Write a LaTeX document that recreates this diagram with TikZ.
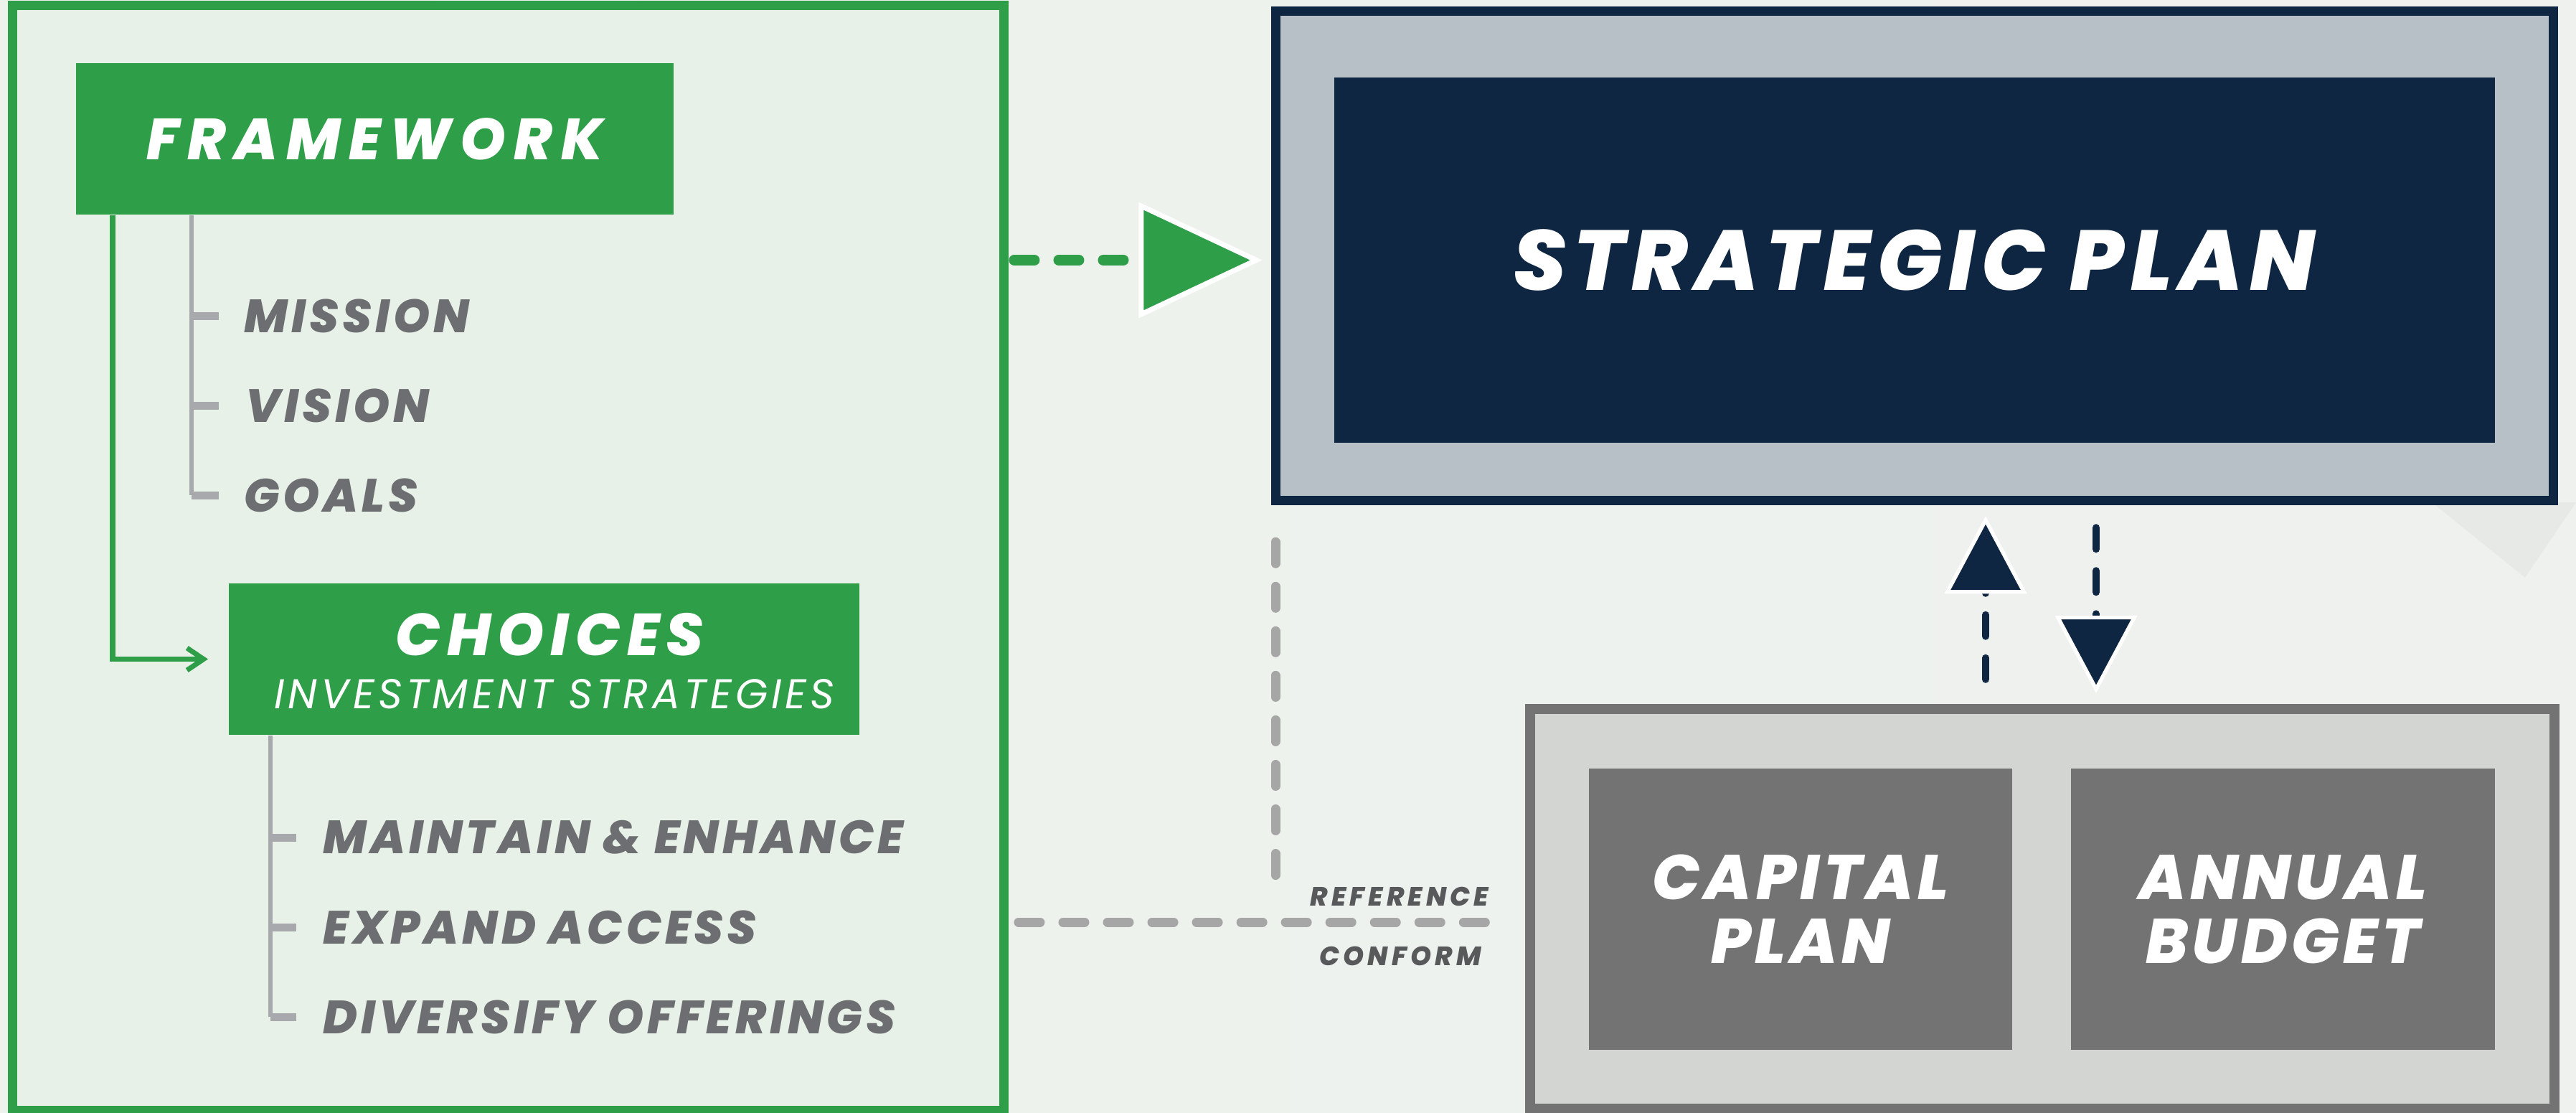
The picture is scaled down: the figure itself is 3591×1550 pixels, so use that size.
\documentclass[tikz,border=0pt]{standalone}
\usepackage{fontspec}
\setmainfont{Poppins}
\newfontfamily\heavyfont{Poppins ExtraBold Italic}
\usetikzlibrary{arrows.meta}
\definecolor{grn}{HTML}{2E9E48}
\definecolor{grnlight}{HTML}{E8F1E7}
\definecolor{bgl}{HTML}{EDF3EC}
\definecolor{bgr}{HTML}{EFF1EF}
\definecolor{treegrey}{HTML}{A7A9AC}
\definecolor{itemgrey}{HTML}{6D6E71}
\definecolor{navy}{HTML}{0E2641}
\definecolor{spgrey}{HTML}{B8C0C7}
\definecolor{cbgrey}{HTML}{737373}
\definecolor{cblight}{HTML}{D3D5D3}
\definecolor{dashgrey}{HTML}{A6A6A6}
\definecolor{labelgrey}{HTML}{58595B}
\tikzset{
  hfont/.style 2 args={font=\fontsize{#1}{#1}\selectfont\heavyfont\addfontfeature{LetterSpace=#2}},
  panel/.style={draw=grn, line width=0.13cm, fill=grnlight},
  greenbox/.style={fill=grn, text=white, inner sep=0, minimum height=2.11cm},
  item/.style={anchor=west, inner sep=0, text=itemgrey, hfont={18.5}{7.5}},
  tree/.style={draw=treegrey, line width=0.065cm},
  tick/.style={draw=treegrey, line width=0.11cm},
  cbbox/.style={fill=cbgrey, text=white, align=center, minimum width=5.9cm, minimum height=3.92cm,
    font=\fontsize{25}{25.3}\selectfont\heavyfont\addfontfeature{LetterSpace=6.5}},
  gdash/.style={draw=grn, line width=0.15cm, line cap=round, dash pattern=on 0.28cm off 0.34cm},
  greydash/.style={draw=dashgrey, line width=0.13cm, line cap=round, dash pattern=on 0.3cm off 0.32cm},
  navydash/.style={draw=navy, line width=0.1cm, line cap=round, dash pattern=on 0.3cm off 0.3cm},
  navytip/.style={-{Triangle[length=1.08cm, width=1.14cm, fill=navy, color=white, line width=1.5pt]}},
  reflabel/.style={inner sep=0, text=labelgrey, hfont={10.5}{14}},
}
\begin{document}
\begin{tikzpicture}[x=0.01cm,y=-0.01cm]
  \fill[left color=bgl, right color=bgr] (0,0) rectangle (3591,1550);
  \fill[black, opacity=0.03] (3390,700) -- (3520,805) -- (3591,700) -- cycle;
  \useasboundingbox (0,0) rectangle (3591,1550);

  % left panel: framework and choices
  \node[panel, minimum width=13.81cm, minimum height=15.39cm] (frame) at (708.5,777.5) {};
  \node[greenbox, minimum width=8.33cm, hfont={23}{14.5}] (fw) at (522.5,193.5) {FRAMEWORK};
  \node[greenbox, minimum width=8.79cm] (ch) at (758.5,918.5) {};
  \node[inner sep=0, text=white, hfont={23.5}{11}] (chtitle) at (766,884) {CHOICES};
  \node[inner sep=0, text=white, font=\fontsize{16.5}{16.5}\selectfont\itshape\addfontfeature{LetterSpace=9}] (chsub) at (773,967) {INVESTMENT STRATEGIES};

  \node[item] (mission) at (340,440) {MISSION};
  \node[item] (vision) at (342,565) {VISION};
  \node[item] (goals) at (340,690) {GOALS};
  \node[item] (maintain) at (450,1167) {MAINTAIN \& ENHANCE};
  \node[item] (expand) at (450,1292) {EXPAND ACCESS};
  \node[item] (diversify) at (450,1417) {DIVERSIFY OFFERINGS};

  \coordinate (t1x) at (267,0);
  \coordinate (t2x) at (377,0);
  \coordinate (gx) at (157,0);
  \draw[tree] (fw.south -| t1x) -- (t1x |- goals.west);
  \foreach \n in {mission,vision,goals}
    \draw[tick] (t1x |- \n.west) -- ++(38,0);
  \draw[tree] (ch.south -| t2x) -- (t2x |- diversify.west);
  \foreach \n in {maintain,expand,diversify}
    \draw[tick] (t2x |- \n.west) -- ++(36,0);
  \draw[draw=grn, line width=0.07cm, -{Straight Barb[length=0.23cm, width=0.31cm]}, shorten >=0.28cm]
    (fw.south -| gx) |- (ch.west);

  % strategic plan
  \node[draw=navy, line width=0.13cm, fill=spgrey, minimum width=17.80cm, minimum height=6.82cm] (sp) at (2668.5,356.5) {};
  \node[fill=navy, text=white, minimum width=16.17cm, minimum height=5.09cm, hfont={33.7}{8}] (spin) at (2668.5,362.5) {STRATEGIC PLAN};

  % capital plan and annual budget
  \node[draw=cbgrey, line width=0.14cm, fill=cblight, minimum width=14.28cm, minimum height=5.57cm] (cb) at (2847,1266.5) {};
  \node[cbbox] (cap) at (2510,1267) {CAPITAL\\PLAN};
  \node[cbbox] (bud) at (3182.5,1267) {ANNUAL\\BUDGET};

  % connectors
  \draw[gdash, shorten <=0.08cm, shorten >=0.12cm,
    -{Triangle[length=1.72cm, width=1.6cm, fill=grn, color=white, line width=2pt]}]
    (frame.east |- spin) -- (sp.west |- spin);

  \coordinate (upx) at (2768,0);
  \coordinate (dnx) at (2922,0);
  \draw[navydash, navytip, shorten <=0.34cm, shorten >=0.15cm] (cb.north -| upx) -- (sp.south -| upx);
  \draw[navydash, navytip, shorten <=0.31cm, shorten >=0.15cm] (sp.south -| dnx) -- (cb.north -| dnx);

  \coordinate (refx) at (1778,0);
  \coordinate (refy) at (0,1285);
  \draw[greydash, shorten <=0.14cm, shorten >=0.26cm] (frame.east |- refy) -- (cb.west |- refy);
  \draw[greydash, shorten <=0.51cm, shorten >=0.36cm] (sp.south -| refx) -- (refy -| refx);
  \node[reflabel] (reflab) at (1951,1249) {REFERENCE};
  \node[reflabel] (conflab) at (1952,1332) {CONFORM};
\end{tikzpicture}
\end{document}
